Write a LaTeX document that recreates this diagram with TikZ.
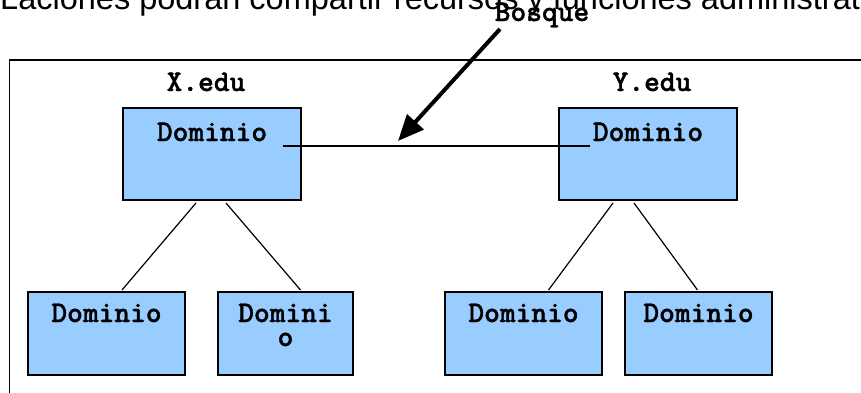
\documentclass[tikz,border=0pt]{standalone}
\usepackage{fontspec}
\setmainfont{Liberation Sans}
\newfontfamily\courfont[FakeBold=1.2]{lmmonolt10-bold.otf}
\usetikzlibrary{arrows.meta,calc}
\definecolor{boxblue}{HTML}{99CCFF}
\begin{document}
\begin{tikzpicture}[x=1pt,y=-1pt,
  dombox/.style={draw=black,line width=1.8pt,fill=boxblue,inner sep=0pt,outer sep=0pt},
  monotext/.style={font=\courfont\fontsize{30}{25}\selectfont,inner sep=0pt,anchor=base},
  link/.style={draw=black,line width=1.2pt},
  frameline/.style={draw=black,line width=1.8pt}]
\useasboundingbox (0,0) rectangle (861,392);
\clip (0,0) rectangle (861,392);
% cut-off heading text
\node[anchor=base west,inner sep=0pt,font=\fontsize{32.5}{32.5}\selectfont] (head) at (0,9) {Laciones podrán compartir recursos y funciones administrativas};
% frame
\draw[frameline] (870,60) -- (9.5,60) -- (9.5,400);
% boxes
\node[dombox,minimum width=178pt,minimum height=92pt] (a) at (212,154) {};
\node[dombox,minimum width=178pt,minimum height=92pt] (b) at (648,154) {};
\node[dombox,minimum width=157pt,minimum height=83pt] (a1) at (106.5,333.5) {};
\node[dombox,minimum width=135pt,minimum height=83pt] (a2) at (285.5,333.5) {};
\node[dombox,minimum width=157pt,minimum height=83pt] (b1) at (523.5,333.5) {};
\node[dombox,minimum width=147pt,minimum height=83pt] (b2) at (698.5,333.5) {};
% texts
\node[monotext] (xedu) at (206,91) {X.edu};
\node[monotext] (yedu) at (652,91) {Y.edu};
\node[monotext] (ta) at (212,141) {Dominio};
\node[monotext] (tb) at (648,141) {Dominio};
\node[monotext] (ta1) at (106.5,322) {Dominio};
\node[monotext,align=center] (ta2) at (285.5,346) {Domini\ \\[-1pt]o};
\node[monotext] (tb1) at (523.5,322) {Dominio};
\node[monotext] (tb2) at (698.5,322) {Dominio};
\node[monotext] (bosque) at (542,21) {Bosque};
% connectors
\draw[link] ($(a.center)+(71,-8)$) -- ($(b.center)+(-58,-8)$);
\draw[link] ($(a.south)+(-16,3)$) -- ($(a1.north)+(15.5,-2)$);
\draw[link] ($(a.south)+(14,3)$) -- ($(a2.north)+(15,-2)$);
\draw[link] ($(b.south)+(-35,3)$) -- ($(b1.north)+(25,-2)$);
\draw[link] ($(b.south)+(-14,3)$) -- ($(b2.north)+(-1,-2)$);
% arrow
\coordinate (arrstart) at (500,29);
\coordinate (arrend) at (398,141);
\draw[line width=4pt,-{Triangle[length=26pt,width=22pt]}] (arrstart) -- (arrend);
\end{tikzpicture}
\end{document}
